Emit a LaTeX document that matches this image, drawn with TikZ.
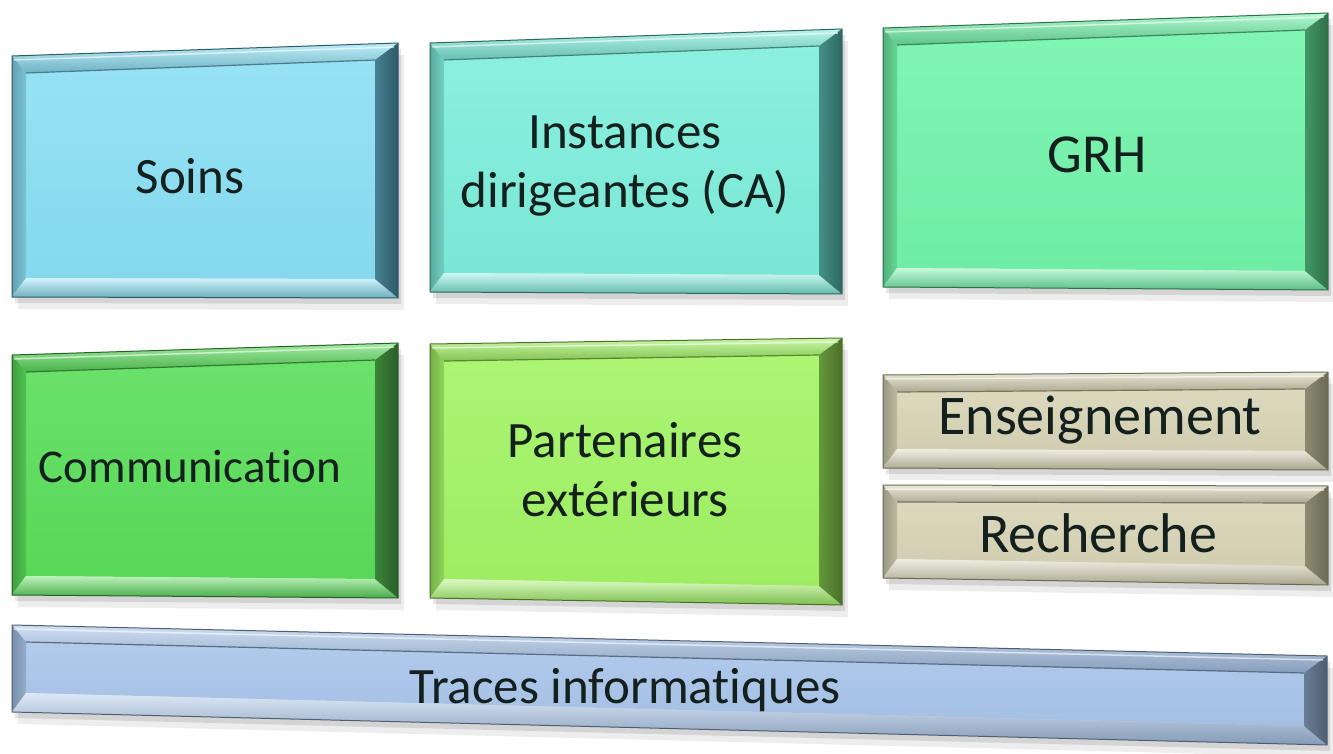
\documentclass[tikz,border=0pt]{standalone}
\usepackage{fontspec}
\setmainfont{Carlito}[Ligatures=CommonOff]
\usetikzlibrary{calc}
\definecolor{txt}{HTML}{14201E}
\definecolor{soinsF}{HTML}{8ADFF4}\definecolor{soinsD}{HTML}{2B5A68}
\definecolor{instF}{HTML}{7EEEDC}\definecolor{instD}{HTML}{2D6760}
\definecolor{grhF}{HTML}{72F4AA}\definecolor{grhD}{HTML}{2E7048}
\definecolor{comF}{HTML}{5ADE5A}\definecolor{comD}{HTML}{2A5E2A}
\definecolor{partF}{HTML}{A2F464}\definecolor{partD}{HTML}{4A7028}
\definecolor{ensF}{HTML}{D8D4B6}\definecolor{ensD}{HTML}{6B6A52}
\definecolor{trF}{HTML}{A8C5EA}\definecolor{trD}{HTML}{4F5E72}
\tikzset{
  lbl/.style={font=\fontsize{51}{59}\selectfont, text=txt, align=center, inner sep=0pt},
  biglbl/.style={lbl, font=\fontsize{56}{62}\selectfont},
}
% #1 name, #2 face colour, #3 dark colour, #4 xl, #5 xr, #6 y top-left, #7 y top-right, #8 y bottom-right, #9 y bottom-left
\newcommand\bevbox[9]{%
  \coordinate (#1-otl) at (#4,#6);
  \coordinate (#1-otr) at (#5,#7);
  \coordinate (#1-obr) at (#5,#8);
  \coordinate (#1-obl) at (#4,#9);
  \coordinate (#1-itl) at ({#4+14},{#6+17});
  \coordinate (#1-itr) at ({#5-23},{#7+17});
  \coordinate (#1-ibr) at ({#5-23},{#8-19});
  \coordinate (#1-ibl) at ({#4+14},{#9-19});
  % shadow
  \fill[black, opacity=.07] ($(#1-otl)+(6,12)$) -- ($(#1-otr)+(6,12)$) -- ($(#1-obr)+(6,12)$) -- ($(#1-obl)+(6,12)$) -- cycle;
  \fill[black, opacity=.10] ($(#1-otl)+(3,6)$) -- ($(#1-otr)+(3,6)$) -- ($(#1-obr)+(3,6)$) -- ($(#1-obl)+(3,6)$) -- cycle;
  % face
  \shade[top color=#2!90!white, bottom color=#2!97!black] (#1-itl) -- (#1-itr) -- (#1-ibr) -- (#1-ibl) -- cycle;
  % top bevel
  \shade[top color=#2!55!white, bottom color=#2!80!black] (#1-otl) -- (#1-otr) -- (#1-itr) -- (#1-itl) -- cycle;
  % left bevel
  \shade[left color=#2!72!black, right color=#2!88!black] (#1-otl) -- (#1-itl) -- (#1-ibl) -- (#1-obl) -- cycle;
  % bottom bevel
  \shade[top color=#2!40!white, bottom color=#2!78!black] (#1-ibl) -- (#1-ibr) -- (#1-obr) -- (#1-obl) -- cycle;
  % right bevel
  \shade[left color=#3!70!#2, right color=#3] (#1-itr) -- (#1-otr) -- (#1-obr) -- (#1-ibr) -- cycle;
  % edges
  \draw[#2!55!black, line width=1.2pt] (#1-itl) -- (#1-itr);
  \draw[white, opacity=.6, line width=1.5pt] ($(#1-otl)+(2,4)$) -- ($(#1-otr)+(-4,4)$);
  \draw[#3, line width=1pt, line join=round] (#1-otl) -- (#1-otr) -- (#1-obr) -- (#1-obl) -- cycle;
}
\begin{document}
\begin{tikzpicture}[x=1pt, y=-1pt]
\useasboundingbox (0,0) rectangle (1333,754);
\fill[white] (0,0) rectangle (1333,754);

\bevbox{bsoins}{soinsF}{soinsD}{12}{398}{56}{43}{298}{297}
\bevbox{binst}{instF}{instD}{430}{842}{43}{29}{294}{292}
\bevbox{bgrh}{grhF}{grhD}{883}{1328}{28}{13}{290}{287}
\bevbox{bcom}{comF}{comD}{12}{398}{355}{343}{598}{595}
\bevbox{bpart}{partF}{partD}{430}{842}{344}{338}{605}{598}
\bevbox{bens}{ensF}{ensD}{883}{1328}{375}{372}{470}{468}
\bevbox{brech}{ensF}{ensD}{883}{1328}{485}{486}{585}{578}
\bevbox{btr}{trF}{trD}{12}{1327}{625}{656}{745}{712}

\node[lbl] (soins) at (190,176) {Soins};
\node[lbl] (inst) at (625,166) {Instances\\dirigeantes (CA)};
\node[lbl, font=\fontsize{55}{60}\selectfont] (grh) at (1097,155) {GRH};
\node[lbl, font=\fontsize{47}{54}\selectfont] (com) at (190,467) {Communication};
\node[lbl] (part) at (625,470) {Partenaires\\extérieurs};
\node[biglbl] (ens) at (1100,420) {Enseignement};
\node[biglbl] (rech) at (1098,533) {Recherche};
\node[lbl] (tr) at (625,690) {Traces informatiques};
\end{tikzpicture}
\end{document}
